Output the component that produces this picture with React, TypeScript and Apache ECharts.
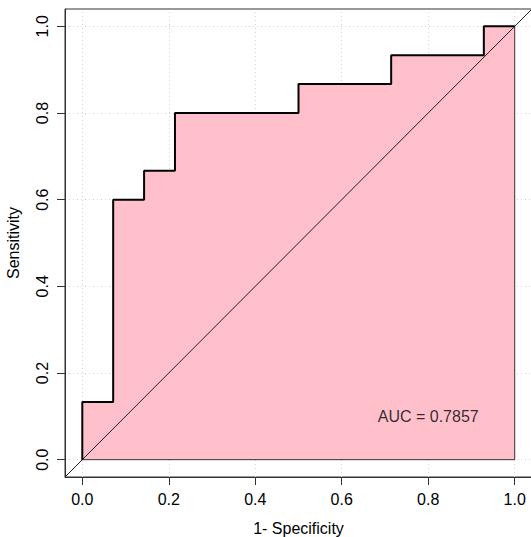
import React, { useEffect, useRef } from "react";
import * as echarts from "echarts";

// ROC curve coordinates (1 - specificity, sensitivity), in drawing order
const fpr = [0, 0, 0.0714, 0.0714, 0.1429, 0.1429, 0.2143, 0.2143, 0.5, 0.5, 0.7143, 0.7143, 0.9286, 0.9286, 1];
const tpr = [0, 0.1333, 0.1333, 0.6, 0.6, 0.6667, 0.6667, 0.8, 0.8, 0.8667, 0.8667, 0.9333, 0.9333, 1, 1];
const ticks = [0, 0.2, 0.4, 0.6, 0.8, 1.0];
const aucText = "AUC = 0.7857";
const aucPos = [0.8, 0.1];
const diagonal = [[-0.04, -0.04], [1.04, 1.04]];
const polygonEdge = [[1, 1], [1, 0], [0, 0]];

const FONT = "'Liberation Sans', Arial, sans-serif";

export default function App() {
  const ref = useRef<HTMLDivElement>(null);
  useEffect(() => {
    if (!ref.current) return;
    const chart = echarts.init(ref.current, undefined, { renderer: "svg" });
    const curve = fpr.map((x, i) => [x, tpr[i]]);
    const axisCommon = {
      type: "value",
      min: -0.04,
      max: 1.04,
      splitLine: { show: false },
      axisLine: { show: true, onZero: false, lineStyle: { color: "#333", width: 1 } },
      axisTick: { show: true, customValues: ticks, length: 8, inside: false, lineStyle: { color: "#333", width: 1 } },
      nameLocation: "middle",
      nameTextStyle: { fontFamily: FONT, fontSize: 16, color: "#000" },
    };
    chart.setOption({
      animation: false,
      backgroundColor: "#fff",
      textStyle: { fontFamily: FONT },
      grid: {
        left: 65,
        top: 9,
        width: 467,
        height: 468,
        show: true,
        borderColor: "#333",
        borderWidth: 1,
        containLabel: false,
        outerBoundsMode: "none",
      },
      xAxis: {
        ...axisCommon,
        name: "1- Specificity",
        nameGap: 43,
        axisLabel: {
          customValues: ticks,
          formatter: (v: number) => v.toFixed(1),
          margin: 14,
          fontFamily: FONT,
          fontSize: 16,
          color: "#000",
        },
      },
      yAxis: {
        ...axisCommon,
        name: "Sensitivity",
        nameGap: 44,
        axisLabel: {
          customValues: ticks,
          formatter: (v: number) => v.toFixed(1),
          rotate: 90,
          margin: 15,
          fontFamily: FONT,
          fontSize: 16,
          color: "#000",
        },
      },
      series: [
        {
          type: "line",
          data: [],
          z: 0,
          silent: true,
          markLine: {
            z: 0,
            silent: true,
            symbol: "none",
            label: { show: false },
            lineStyle: { color: "#D3D3D3", type: [1, 3], width: 1 },
            data: [...ticks.map((t) => ({ xAxis: t })), ...ticks.map((t) => ({ yAxis: t }))],
          },
        },
        {
          type: "line",
          data: curve,
          z: 2,
          symbol: "none",
          silent: true,
          lineStyle: { width: 0 },
          areaStyle: { color: "#FFC0CB", opacity: 1, origin: 0 },
        },
        {
          type: "line",
          data: polygonEdge,
          z: 3,
          symbol: "none",
          silent: true,
          lineStyle: { color: "#333", width: 1 },
        },
        {
          type: "line",
          data: diagonal,
          z: 3,
          symbol: "none",
          silent: true,
          clip: true,
          lineStyle: { color: "#222", width: 1 },
        },
        {
          type: "line",
          data: curve,
          z: 4,
          symbol: "none",
          silent: true,
          lineStyle: { color: "#000", width: 2 },
        },
        {
          type: "scatter",
          data: [aucPos],
          z: 5,
          symbolSize: 0,
          silent: true,
          label: {
            show: true,
            position: "inside",
            formatter: aucText,
            fontFamily: FONT,
            fontSize: 16,
            color: "#000",
          },
        },
      ],
    });
    return () => chart.dispose();
  }, []);
  return <div ref={ref} style={{ width: 531, height: 537, position: "absolute", left: 0, top: 0 }} />;
}
